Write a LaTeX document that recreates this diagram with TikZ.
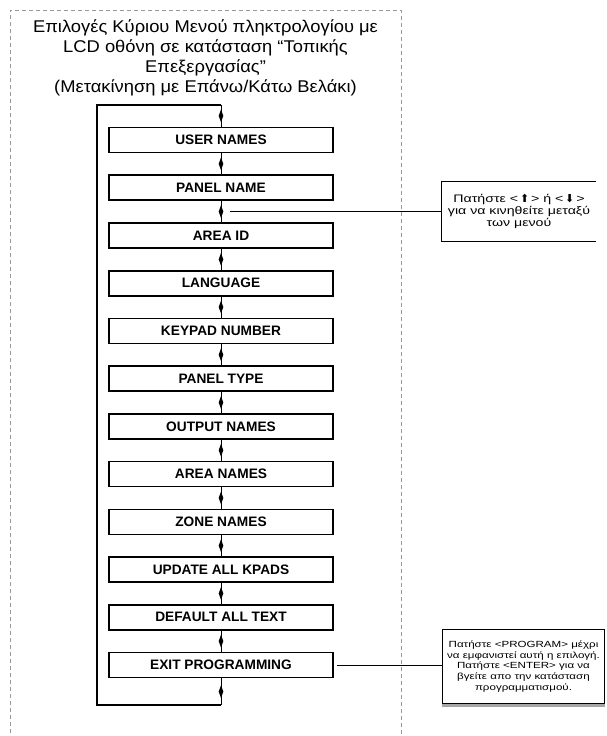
\documentclass[tikz,border=0pt]{standalone}
\usepackage{fontspec}
\setmainfont{Liberation Sans}
\newfontfamily\symfont{DejaVu Sans}
\newfontfamily\notefont[FakeStretch=1.3]{Liberation Sans}
\newfontfamily\titlefont[FakeStretch=1.08]{Liberation Sans}
\usetikzlibrary{shapes.geometric}
\begin{document}
\begin{tikzpicture}[x=1pt,y=-1pt,
  menubox/.style={draw, line width=1.6pt, minimum width=224pt, minimum height=25pt, inner sep=0pt, font=\bfseries\fontsize{13.7}{15}\selectfont},
  link/.style={line width=0.9pt},
  loopline/.style={line width=1.8pt},
  dia/.style={diamond, fill=black, draw=none, minimum width=5pt, minimum height=13pt, inner sep=0pt},
  notetext/.style={align=center, inner sep=0pt},
  noteline/.style={line width=0.7pt},
  frame/.style={gray!80, dashed, dash pattern=on 4pt off 3pt, line width=0.8pt}]
\useasboundingbox (0,0) rectangle (607,736);
% dashed frame
\draw[frame] (10,740) -- (10,10) -- (401,10) -- (401,740);
% title
\node[align=center, font=\titlefont\fontsize{17}{20}\selectfont] (title) at (205.5,58)
  {Επιλογές Κύριου Μενού πληκτρολογίου με\\LCD οθόνη σε κατάσταση “Τοπικής\\Επεξεργασίας”\\(Μετακίνηση με Επάνω/Κάτω Βελάκι)};
% menu boxes
\node[menubox] (b1) at (221,140) {USER NAMES};
\node[menubox] (b2) at (221,187.7) {PANEL NAME};
\node[menubox] (b3) at (221,235.5) {AREA ID};
\node[menubox] (b4) at (221,283.2) {LANGUAGE};
\node[menubox] (b5) at (221,330.9) {KEYPAD NUMBER};
\node[menubox] (b6) at (221,378.6) {PANEL TYPE};
\node[menubox] (b7) at (221,426.4) {OUTPUT NAMES};
\node[menubox] (b8) at (221,474.1) {AREA NAMES};
\node[menubox] (b9) at (221,521.8) {ZONE NAMES};
\node[menubox] (b10) at (221,569.5) {UPDATE ALL KPADS};
\node[menubox] (b11) at (221,617.3) {DEFAULT ALL TEXT};
\node[menubox] (b12) at (221,665) {EXIT PROGRAMMING};
% connectors
\foreach \a/\b in {b1/b2,b2/b3,b3/b4,b4/b5,b5/b6,b6/b7,b7/b8,b8/b9,b9/b10,b10/b11,b11/b12}
  \draw[link] (\a.south) -- node[dia]{} (\b.north);
% loop
\coordinate (lt) at (221,105);
\coordinate (ltl) at (97,105);
\coordinate (lbl) at (97,705);
\coordinate (lb) at (221,705);
\draw[link] (lt) -- node[dia]{} (b1.north);
\draw[link] (b12.south) -- node[dia]{} (lb);
\draw[loopline, line join=miter] (lt) -- (ltl) -- (lbl) -- (lb);
% note 1
\node[notetext, minimum width=154pt, minimum height=59pt, font=\notefont\fontsize{10.9}{12}\selectfont] (n1) at (519,211.5)
  {Πατήστε <\,{\symfont\fontsize{11}{11}\selectfont ⬆}\,> ή <\,{\symfont\fontsize{11}{11}\selectfont ⬇}\,>\\για να κινηθείτε μεταξύ\\των μενού};
\draw[noteline] (n1.north east) -- (n1.north west) -- (n1.south west) -- (n1.south east);
\coordinate (s1) at (230,211.5);
\draw[noteline] (s1) -- (n1.west);
% note 2
\node[notetext, draw, line width=0.8pt, minimum width=162pt, minimum height=74pt, font=\notefont\fontsize{8.9}{10.6}\selectfont] (n2) at (523.5,666.5)
  {Πατήστε <PROGRAM> μέχρι\\να εμφανιστεί αυτή η επιλογή.\\Πατήστε <ENTER> για να\\βγείτε απο την κατάσταση\\προγραμματισμού.};
\draw[gray!70, line width=2.2pt] ([yshift=-1.5pt]n2.south west) -- ([yshift=-1.5pt]n2.south east);
\draw[noteline] ([xshift=3pt]b12.east) -- (b12.east -| n2.west);
\end{tikzpicture}
\end{document}
